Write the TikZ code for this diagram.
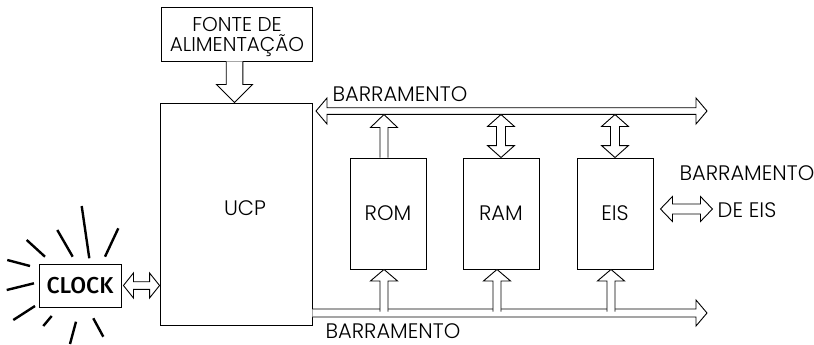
\documentclass[tikz,border=0pt]{standalone}
\usepackage{fontspec}
\newfontfamily\labfont{Poppins}[UprightFont=* Light]
\newfontfamily\clkfont{Fira Sans}[UprightFont=* Medium]
\usetikzlibrary{calc,positioning}

% hollow block arrows: tail, tip, shaft half width, head half width, head length
\newcommand\onearrow[5]{%
  \coordinate (aa) at (#1); \coordinate (ab) at (#2);
  \coordinate (ah) at ($(ab)!#5!(aa)$);
  \path[hollow] ($(aa)!#3!90:(ab)$) -- ($(ah)!#3!90:(ab)$) -- ($(ah)!#4!90:(ab)$) -- (ab)
    -- ($(ah)!#4!-90:(ab)$) -- ($(ah)!#3!-90:(ab)$) -- ($(aa)!#3!-90:(ab)$);
}
\newcommand\twoarrow[5]{%
  \coordinate (aa) at (#1); \coordinate (ab) at (#2);
  \coordinate (ah) at ($(ab)!#5!(aa)$); \coordinate (ag) at ($(aa)!#5!(ab)$);
  \path[hollow] (aa) -- ($(ag)!#4!90:(ab)$) -- ($(ag)!#3!90:(ab)$) -- ($(ah)!#3!90:(ab)$)
    -- ($(ah)!#4!90:(ab)$) -- (ab) -- ($(ah)!#4!-90:(ab)$) -- ($(ah)!#3!-90:(ab)$)
    -- ($(ag)!#3!-90:(ab)$) -- ($(ag)!#4!-90:(ab)$) -- cycle;
}

\begin{document}
\begin{tikzpicture}[x=1pt,y=-1pt,line width=.9pt,
  box/.style={draw,rectangle,inner sep=0pt,font=\labfont\fontsize{21}{25}\selectfont},
  lab/.style={inner sep=0pt,font=\labfont\fontsize{21}{25}\selectfont},
  hollow/.style={draw,fill=white,line join=miter},
  ray/.style={line width=2.4pt}]
\useasboundingbox (0,0) rectangle (814,345);

\node[box,minimum width=151pt,minimum height=54pt] (fonte) at (236.5,34) {};
\node[lab,align=center,font=\labfont\fontsize{20}{20.5}\selectfont]
  (fontelab) at (237,37) {FONTE DE\\ALIMENTAÇÃO};
\node[box,minimum width=152pt,minimum height=222pt] (ucp) at (236,214) {};
\node[lab] (ucplab) at (245,208) {UCP};
\node[box,minimum width=76pt,minimum height=111pt] (rom) at (388,213.5) {ROM};
\node[box,minimum width=76pt,minimum height=111pt] (ram) at (501,213.5) {RAM};
\node[box,minimum width=76pt,minimum height=111pt] (eis) at (615,213.5) {EIS};
\node[draw,minimum width=82pt,minimum height=43pt,inner sep=0pt,
  font=\clkfont\fontsize{23}{26}\selectfont] (clock) at (80,285.5) {CLOCK};

% rays
\foreach \ax/\ay/\bx/\by in {81.7/206/89.3/258.3, 57.3/230/72.7/256.7, 118.3/228.3/105/256.7,
  26.7/240/45/256.7, 7.3/260/30/266, 6.7/290/34/283.3, 13.3/320/35/306,
  43.3/326/51.7/316, 70/344/76/321.7, 103.3/336.7/93.3/318.3}
  \draw[ray] (\ax,\ay) -- (\bx,\by);

% buses
\coordinate (topL) at (316,111);
\coordinate (topR) at (707,111);
\coordinate (topedge) at (316,114.5);
\coordinate (botR) at (707,313);
\coordinate (botin) at (312,311.5);
\twoarrow{topL}{topR}{3.3pt}{13pt}{11pt}
\onearrow{ucp.east |- botR}{botR}{4pt}{13pt}{11pt}
\node[lab] (toplab) at (400,94) {BARRAMENTO};
\node[lab] (botlab) at (393,331) {BARRAMENTO};

% power supply
\coordinate (fsrc) at ($(fonte.south)+(-2,0)$);
\onearrow{fsrc}{fsrc |- ucp.north}{8.3pt}{18pt}{18pt}

% memories and I/O to the buses
\coordinate (romtop) at ($(rom.north)+(-4,0)$);
\onearrow{romtop}{romtop |- topedge}{4pt}{13.5pt}{13pt}
\foreach \b in {ram,eis}{
  \twoarrow{\b.north |- topedge}{\b.north}{4.5pt}{13.5pt}{12pt}
}
\foreach \b in {rom,ram,eis}{
  \coordinate (bb) at ($(\b.south)+(-4,0)$);
  \onearrow{bb |- botin}{bb}{4pt}{13.5pt}{11.5pt}
}

% clock and I/O bus
\coordinate (csrc) at ($(clock.east)+(2,0)$);
\twoarrow{csrc}{csrc -| ucp.west}{3.8pt}{12.5pt}{10pt}
\coordinate (esrc) at ($(eis.east)+(7,-4.5)$);
\twoarrow{esrc}{$(esrc)+(52,0)$}{5pt}{12.5pt}{12pt}
\node[lab,align=center] (eislab) at (747,192) {BARRAMENTO\\[12pt]DE EIS};
\end{tikzpicture}
\end{document}
